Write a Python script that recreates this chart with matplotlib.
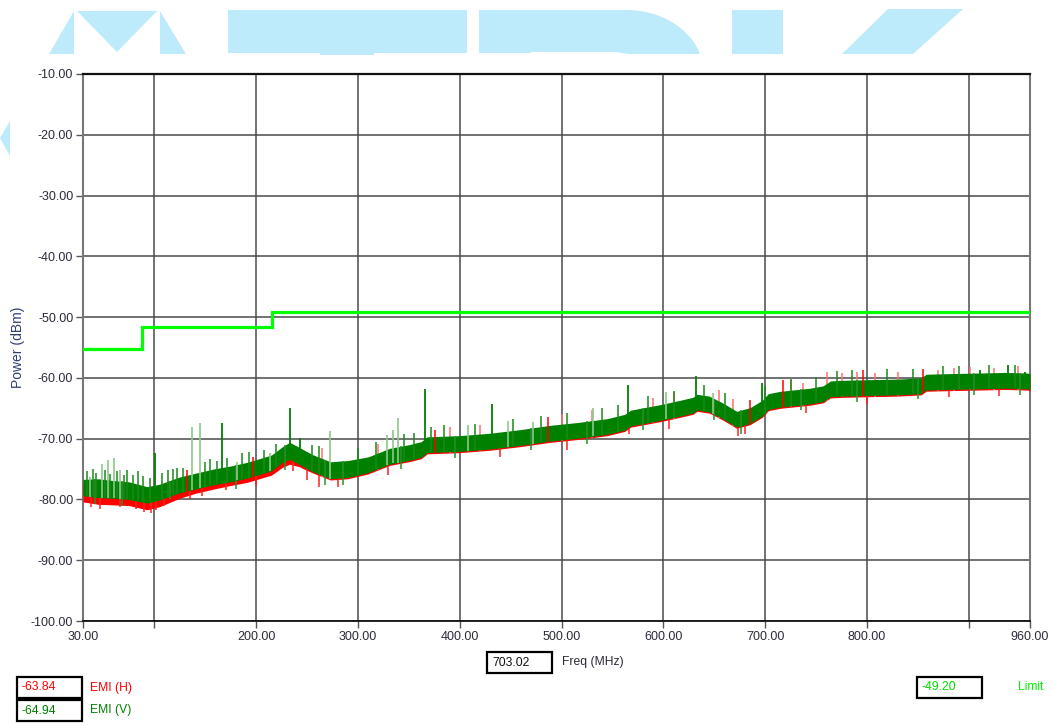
import numpy as np
import matplotlib
matplotlib.use("Agg")
import matplotlib.pyplot as plt
from matplotlib.patches import Polygon, Rectangle, PathPatch
from matplotlib.path import Path

plt.rcParams['font.family'] = ['Liberation Sans', 'DejaVu Sans']

# ---------------- data ----------------
x_ticks = [30, 100, 200, 300, 400, 500, 600, 700, 800, 900, 960]
x_labels = ['30.00', '', '200.00', '300.00', '400.00', '500.00', '600.00',
            '700.00', '800.00', '', '960.00']
y_ticks = [-100, -90, -80, -70, -60, -50, -40, -30, -20, -10]

limit_freq = [30, 88, 216, 960]
limit_level = [-55.2, -51.7, -49.2, -49.2]

# EMI (V) band (green) - lower / upper envelope
v_freq = [30, 45, 60, 75, 93, 105, 125, 140, 158, 175, 191, 205, 215, 226, 233,
          242, 255, 273, 290, 310, 331, 350, 362, 368, 400, 430, 460, 489, 518,
          545, 562, 568, 597, 616, 629, 633, 645, 658, 672, 685, 697, 703, 715,
          744, 757, 764, 776, 800, 830, 853, 858, 880, 911, 935, 957, 960]
v_low = [-79.4, -79.7, -79.8, -80.0, -80.6, -80.1, -78.9, -78.3, -77.6, -77.1,
         -76.5, -75.8, -75.3, -73.9, -73.4, -74.2, -75.4, -76.6, -76.4, -75.6,
         -74.2, -73.6, -73.1, -72.3, -72.1, -71.7, -71.1, -70.4, -69.9, -69.3,
         -68.6, -67.9, -67.0, -66.3, -65.8, -65.3, -65.6, -66.7, -68.1, -67.5,
         -66.3, -65.2, -64.8, -64.3, -63.9, -63.1, -63.0, -62.9, -62.8, -62.6,
         -62.0, -61.9, -61.8, -61.7, -61.8, -61.9]
v_high = [-76.7, -76.6, -76.9, -77.1, -77.9, -77.5, -76.3, -75.7, -75.0, -74.5,
          -73.9, -73.2, -72.7, -71.3, -70.6, -71.4, -72.6, -73.8, -73.6, -73.0,
          -71.6, -71.0, -70.5, -69.7, -69.5, -69.1, -68.5, -67.8, -67.3, -66.7,
          -66.0, -65.3, -64.4, -63.7, -63.2, -62.7, -63.0, -64.1, -65.5, -64.9,
          -63.7, -62.6, -62.2, -61.7, -61.3, -60.5, -60.4, -60.3, -60.2, -60.0,
          -59.4, -59.3, -59.2, -59.1, -59.2, -59.3]

# EMI (H) band (red) - mostly hidden behind V, lower below 240 MHz
h_freq = v_freq
h_low = [-80.4, -80.8, -80.9, -81.0, -81.7, -81.2, -79.8, -79.0, -78.3, -77.7,
         -77.2, -76.5, -76.0, -74.7, -74.2, -74.6, -75.6, -76.8, -76.6, -75.8,
         -74.4, -73.8, -73.3, -72.5, -72.3, -71.9, -71.3, -70.6, -70.1, -69.5,
         -68.8, -68.1, -67.2, -66.5, -66.0, -65.5, -65.8, -66.9, -68.3, -67.7,
         -66.5, -65.4, -65.0, -64.5, -64.1, -63.3, -63.2, -63.1, -63.0, -62.8,
         -62.2, -62.1, -62.0, -61.9, -62.0, -62.1]
h_high = [-77.3, -77.6, -77.7, -77.9, -78.5, -78.1, -76.9, -76.2, -75.4, -74.9,
          -74.3, -73.5, -73.0, -71.6, -71.0, -71.7, -72.8, -74.0, -73.8, -73.2,
          -71.8, -71.2, -70.7, -69.9, -69.7, -69.3, -68.7, -68.0, -67.5, -66.9,
          -66.2, -65.5, -64.6, -63.9, -63.4, -62.9, -63.2, -64.3, -65.7, -65.1,
          -63.9, -62.8, -62.4, -61.9, -61.5, -60.7, -60.6, -60.5, -60.4, -60.2,
          -59.6, -59.5, -59.4, -59.3, -59.4, -59.5]

# strong spikes (freq MHz, peak dBm)
v_spike_freq = [233.3, 365.9, 431.3, 565.5, 632.0, 696.5, 166.8, 910.9, 938.7,
                955.0, 100.7, 243.0]
v_spike_peak = [-65.0, -61.9, -64.3, -61.2, -59.7, -60.8, -67.5, -58.7, -57.9,
                -59.0, -72.4, -69.9]
v_faint_freq = [36.9, 48.3, 54.9, 60.8, 66.3, 136.7, 144.9, 180.9, 213.6, 272.6,
                328.2, 334.7, 339.6, 408.4, 447.7, 472.2, 531.1, 602.5, 649.0]
v_faint_peak = [-76.3, -74.1, -73.5, -73.2, -75.2, -68.0, -67.4, -73.8, -72.4,
                -68.7, -69.4, -68.6, -66.6, -67.7, -67.1, -67.2, -64.9, -62.3,
                -62.5]
# small "grass" peaks along the top of the V trace
v_grass_freq = [34, 40, 43, 52, 57, 63, 70, 73, 79, 84, 89, 96, 108, 113, 118,
                122, 128, 150, 155, 162, 171, 186, 193, 208, 220, 255, 262, 300,
                318, 345, 355, 372, 385, 415, 452, 480, 505, 540, 555, 585, 610,
                640, 660, 700, 725, 750, 770, 785, 820, 845, 875, 890, 920, 945]
v_grass_peak = [-75.4, -75.0, -75.6, -75.2, -75.8, -75.3, -75.9, -75.1, -76.0,
                -75.4, -76.2, -76.4, -75.6, -75.2, -75.0, -74.9, -74.8, -73.8,
                -73.4, -73.6, -73.2, -72.4, -72.2, -71.9, -70.9, -71.0, -71.2,
                -71.5, -70.6, -69.3, -69.0, -68.0, -67.7, -67.6, -66.8, -66.2,
                -65.7, -65.0, -64.4, -63.0, -62.1, -61.2, -62.5, -61.4, -60.2,
                -59.8, -58.8, -58.7, -58.6, -58.5, -58.0, -58.0, -57.8, -57.9]
# small dips along the bottom of the V trace
v_dip_freq = [42, 68, 115, 180, 228, 268, 285, 342, 395, 470, 525, 580, 650,
              676, 735, 790, 850, 905, 950]
v_dip_level = [-80.7, -81.0, -80.0, -78.3, -75.2, -77.6, -77.6, -75.0, -73.2,
               -71.8, -70.9, -68.5, -67.0, -69.3, -65.3, -63.9, -63.4, -62.8,
               -62.8]
h_spike_freq = [131.8, 197.0, 375.7, 487.0, 685.0, 717.7, 796.3, 855.2]
h_spike_peak = [-75.2, -73.0, -68.6, -66.4, -63.6, -60.3, -58.7, -58.6]
h_faint_freq = [265, 320, 390, 420, 500, 530, 590, 610, 655, 668, 725, 737.4,
                760.3, 775, 790, 807.8, 830, 870.0, 885, 901.0, 925, 948]
h_faint_peak = [-71.6, -70.9, -68.1, -67.7, -65.9, -65.3, -63.3, -62.4, -62.0,
                -63.5, -60.4, -60.9, -59.0, -59.2, -59.0, -59.2, -59.1, -58.7,
                -58.4, -58.2, -58.3, -58.1]
h_dip_freq = [38, 47, 66, 82, 90, 97, 102, 110, 135, 147, 170, 200, 236, 250,
              262, 280, 330, 440, 505, 566, 605, 673, 680, 740, 800, 880, 930]
h_dip_level = [-81.2, -81.5, -81.3, -81.6, -82.0, -82.2, -81.8, -81.0, -80.0,
               -79.5, -78.5, -77.8, -75.3, -76.8, -77.9, -78.0, -76.0, -73.0,
               -71.8, -69.2, -68.4, -69.6, -69.2, -65.8, -64.3, -63.2, -63.0]

cursor_freq = '703.02'
cursor_h = '-63.84'
cursor_v = '-64.94'
cursor_limit = '-49.20'

# ---------------- figure ----------------
W, H = 1055, 726
fig = plt.figure(figsize=(W / 100, H / 100), dpi=100)
fig.patch.set_facecolor('white')


def fx(px):
    return px / W


def fy(py):
    return 1 - py / H


# watermark (light blue shapes, partly cut at top)
wm = '#bdebfb'
wm_polys = [
    [(49, 54), (74, 11), (74, 54)],
    [(77, 11), (157, 11), (117, 52)],
    [(160, 11), (186, 54), (160, 54)],
    [(228, 10), (467, 10), (467, 53), (374, 53), (374, 55), (320, 55), (320, 53), (228, 53)],
    [(732, 10), (783, 10), (783, 54), (732, 54)],
    [(842, 54), (888, 9), (963, 9), (913, 54)],
    [(0, 138), (10, 121), (10, 156)],
]
for poly in wm_polys:
    fig.patches.append(Polygon([(fx(a), fy(b)) for a, b in poly], closed=True,
                               transform=fig.transFigure, facecolor=wm,
                               edgecolor='none', zorder=0))
verts = [(479, 53), (479, 10), (629, 10), (675, 12), (695, 40), (700, 54),
         (629, 54), (615, 52), (531, 52), (531, 53), (479, 53)]
codes = [Path.MOVETO, Path.LINETO, Path.LINETO, Path.CURVE4, Path.CURVE4,
         Path.CURVE4, Path.LINETO, Path.LINETO, Path.LINETO, Path.LINETO,
         Path.CLOSEPOLY]
fig.patches.append(PathPatch(Path([(fx(a), fy(b)) for a, b in verts], codes),
                             transform=fig.transFigure, facecolor=wm,
                             edgecolor='none', zorder=0))

ax_w = fx(1030) - fx(83)
ax = fig.add_axes([fx(83), fy(621), ax_w, fy(74) - fy(621)])
ax.set_facecolor('none')
ax.set_xlim(30, 960)
ax.set_ylim(-100, -10)

ax.set_xticks(x_ticks)
ax.set_xticklabels(x_labels)
ax.set_yticks(y_ticks)
ax.set_yticklabels(['%.2f' % v for v in y_ticks])
ax.grid(True, color='#4a4a4a', linewidth=1.1)
ax.set_axisbelow(True)
ax.tick_params(axis='both', colors='#555555', labelcolor='#2a2a3a',
               labelsize=9, length=5, width=1, pad=2)
for s in ['left', 'right']:
    ax.spines[s].set_color('#777777')
    ax.spines[s].set_linewidth(1.5)
ax.spines['top'].set_color('#111111')
ax.spines['top'].set_linewidth(1.6)
ax.spines['bottom'].set_color('#111111')
ax.spines['bottom'].set_linewidth(1.3)

ax.set_ylabel('Power (dBm)', color='#2f3f70', fontsize=10)
ax.yaxis.set_label_coords((fx(25) - fx(83)) / ax_w, 0.5)

# H trace (red)
ax.fill_between(h_freq, h_low, h_high, color='#ff0000', linewidth=0, zorder=3)
ax.vlines(h_dip_freq, np.interp(h_dip_freq, h_freq, h_high), h_dip_level,
          color='#ff2020', linewidth=1.1, zorder=3)
ax.vlines(h_spike_freq, np.interp(h_spike_freq, h_freq, h_low), h_spike_peak,
          color='#ff0000', linewidth=1.1, zorder=4.5)
ax.vlines(h_faint_freq, np.interp(h_faint_freq, h_freq, h_low), h_faint_peak,
          color='#ff7070', linewidth=1.1, zorder=3)

# V trace (green)
ax.fill_between(v_freq, v_low, v_high, color='#008000', linewidth=0, zorder=4)
ax.vlines(v_dip_freq, np.interp(v_dip_freq, v_freq, v_high), v_dip_level,
          color='#2a8f2a', linewidth=1.1, zorder=4)
ax.vlines(v_grass_freq, np.interp(v_grass_freq, v_freq, v_low), v_grass_peak,
          color='#1a8a1a', linewidth=1.1, zorder=4)
ax.vlines(v_faint_freq, np.interp(v_faint_freq, v_freq, v_low), v_faint_peak,
          color='#8cc88c', linewidth=1.2, zorder=4)
ax.vlines(v_spike_freq, np.interp(v_spike_freq, v_freq, v_low), v_spike_peak,
          color='#008000', linewidth=1.3, zorder=5)

# limit
ax.plot(limit_freq, limit_level, drawstyle='steps-post', color='#00ff00',
        linewidth=2.3, zorder=6, solid_joinstyle='miter')


# ---------------- readout boxes ----------------
def box(x0, y0, w, h, txt, col):
    fig.patches.append(Rectangle((fx(x0), fy(y0 + h)), w / W, h / H,
                                 transform=fig.transFigure, facecolor='white',
                                 edgecolor='black', linewidth=1.6, zorder=5))
    fig.text(fx(x0 + 5), fy(y0 + h / 2), txt, color=col, fontsize=8.7,
             ha='left', va='center', zorder=6)


box(487, 652, 65, 21, cursor_freq, '#111111')
fig.text(fx(562), fy(662.5), 'Freq (MHz)', color='#2a2a3a', fontsize=8.7,
         ha='left', va='center')
box(17, 677, 65, 21, cursor_h, '#ff0000')
fig.text(fx(90), fy(687.5), 'EMI (H)', color='#ff0000', fontsize=8.7,
         ha='left', va='center')
box(17, 700, 65, 21, cursor_v, '#008000')
fig.text(fx(90), fy(710.5), 'EMI (V)', color='#008000', fontsize=8.7,
         ha='left', va='center')
box(917, 677, 65, 21, cursor_limit, '#00dd00')
fig.text(fx(1018), fy(687.5), 'Limit', color='#00ee00', fontsize=8.7,
         ha='left', va='center')

fig.savefig('out.png', dpi=100)
